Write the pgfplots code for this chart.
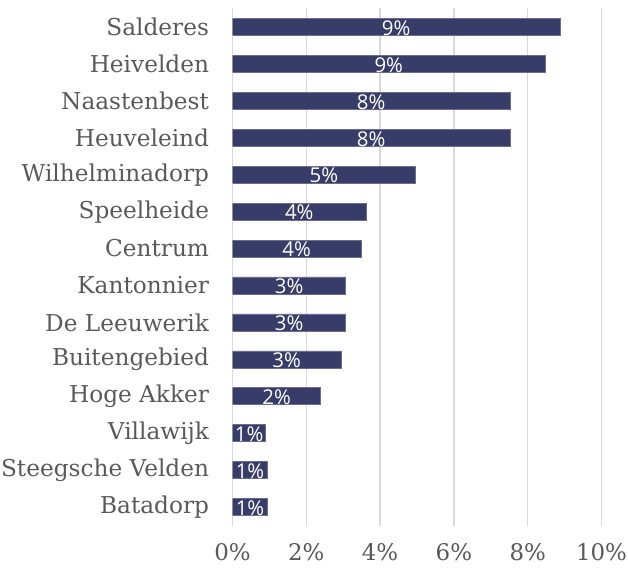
\documentclass[border=0pt]{standalone}
\usepackage{pgfplots}
\pgfplotsset{compat=1.18}
\usepackage{pgfplotstable}
\usepackage{fontspec}
\setmainfont{DejaVu Serif}
\newfontfamily\lab{Open Sans}
\definecolor{barc}{HTML}{383C68}
\definecolor{tickc}{HTML}{595959}
\definecolor{gridc}{HTML}{D9D9D9}
\pgfplotstableread{
y v lab
0 0.95 1\%
1 0.95 1\%
2 0.90 1\%
3 2.39 2\%
4 2.94 3\%
5 3.07 3\%
6 3.07 3\%
7 3.48 4\%
8 3.62 4\%
9 4.95 5\%
10 7.52 8\%
11 7.52 8\%
12 8.47 9\%
13 8.87 9\%
}\data
\begin{document}
\begin{tikzpicture}
\useasboundingbox (0bp,0bp) rectangle (628bp,570bp);
\begin{axis}[
  at={(232.5bp,44.5bp)}, anchor=south west,
  scale only axis, width=369bp, height=517bp,
  xmin=0, xmax=10, ymin=-0.5, ymax=13.5,
  xbar, bar width=17bp,
  axis line style={draw=none},
  xtick={0,2,4,6,8,10},
  xticklabel={\pgfmathprintnumber{\tick}\%},
  xmajorgrids=true, ymajorgrids=false,
  x grid style={draw=gridc, line width=1.4bp},
  major tick length=0pt, tick style={draw=none},
  ytick={0,...,13},
  yticklabels={Batadorp,Steegsche Velden,Villawijk,Hoge Akker,Buitengebied,De Leeuwerik,Kantonnier,Centrum,Speelheide,Wilhelminadorp,Heuveleind,Naastenbest,Heivelden,Salderes},
  yticklabel style={font=\fontsize{23.3}{26}\selectfont, text=tickc, xshift=-20bp},
  xticklabel style={font=\fontsize{23}{26}\selectfont, text=tickc, yshift=-14bp},
  /pgf/number format/assume math mode=true,
]
\addplot[fill=barc, draw=barc!75!white, line width=0.6bp,
  nodes near coords, point meta=explicit symbolic,
  visualization depends on={\thisrow{v} \as \rawv},
  every node near coord/.append style={anchor=center, text=white, font=\lab\fontsize{20.5}{22}\selectfont, inner sep=0pt, xshift={-18.45bp*\rawv}, yshift=-1bp}]
  table[x=v, y=y, meta=lab] {\data};
\end{axis}
\end{tikzpicture}
\end{document}
